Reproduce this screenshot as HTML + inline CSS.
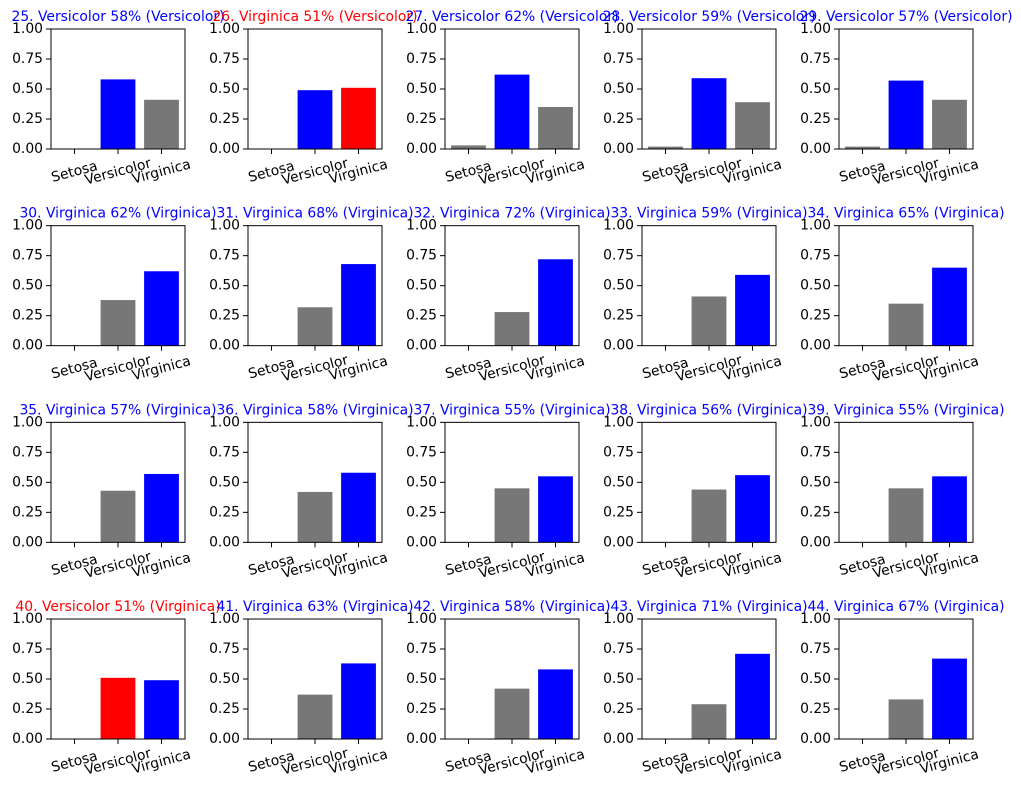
<!DOCTYPE html>
<html><head><meta charset="utf-8"><style>
body{margin:0;background:#fff;}
svg{display:block;font-family:"DejaVu Sans","Liberation Sans",sans-serif;}
</style></head><body>
<svg id="c" width="1021" height="789"></svg>
<script>
const categories=["Setosa","Versicolor","Virginica"];
const sampleIds=[25,26,27,28,29,30,31,32,33,34,35,36,37,38,39,40,41,42,43,44];
const setosaVals=[0,0,0.03,0.02,0.02,0,0,0,0,0,0,0,0,0,0,0,0,0,0,0];
const versicolorVals=[0.58,0.49,0.62,0.59,0.57,0.38,0.32,0.28,0.41,0.35,0.43,0.42,0.45,0.44,0.45,0.51,0.37,0.42,0.29,0.33];
const virginicaVals=[0.41,0.51,0.35,0.39,0.41,0.62,0.68,0.72,0.59,0.65,0.57,0.58,0.55,0.56,0.55,0.49,0.63,0.58,0.71,0.67];
const trueLabels=[1,1,1,1,1,2,2,2,2,2,2,2,2,2,2,2,2,2,2,2];
const yTicks=[0,0.25,0.5,0.75,1.0];
const yTickLabels=["0.00","0.25","0.50","0.75","1.00"];

const NS="http://www.w3.org/2000/svg";
const svg=document.getElementById('c');
function mk(tag,attrs,parent){const e=document.createElementNS(NS,tag);for(const k in attrs)e.setAttribute(k,attrs[k]);(parent||svg).appendChild(e);return e;}
const W=134,H=120,FS=13.9;
sampleIds.forEach((id,i)=>{
  const col=i%5,row=Math.floor(i/5);
  const L=51+col*197,T=29+row*196.67;
  const vals=[setosaVals[i],versicolorVals[i],virginicaVals[i]];
  let pred=0;vals.forEach((v,k)=>{if(v>vals[pred])pred=k;});
  const tr=trueLabels[i];
  const g=mk('g',{});
  
  
  const xs=x=>L+(x+0.54)/3.08*W;
  const ys=y=>T+H-y*H;
  vals.forEach((v,k)=>{
    const color=k===tr?'#0000ff':(k===pred?'#ff0000':'#777777');
    const r=mk('rect',{x:xs(k-0.4),y:ys(v),width:xs(k+0.4)-xs(k-0.4),height:ys(0)-ys(v),fill:color},g);
    
    
  });
  const fr=mk('rect',{x:L,y:T,width:W,height:H,fill:'none',stroke:'#000','stroke-width':1},g);
  
  
  yTicks.forEach((t,k)=>{
    mk('line',{x1:L-5,x2:L,y1:ys(t),y2:ys(t),stroke:'#000'},g);
    const tx=mk('text',{x:L-8,y:ys(t),'text-anchor':'end','dominant-baseline':'central','font-size':FS},g);
    tx.textContent=yTickLabels[k];
    
    
  });
  categories.forEach((c,k)=>{
    const x=xs(k);
    mk('line',{x1:x,x2:x,y1:T+H,y2:T+H+5,stroke:'#000'},g);
    const cy=T+H+23;
    const tx=mk('text',{x:x,y:cy,'text-anchor':'middle','dominant-baseline':'central','font-size':FS,transform:`rotate(-15 ${x} ${cy})`},g);
    tx.textContent=c;
    
    
  });
  const ok=pred===tr;
  const title=mk('text',{x:L+W/2,y:T-8,'text-anchor':'middle','font-size':FS,fill:ok?'#0000ff':'#ff0000'},g);
  title.textContent=`${id}. ${categories[pred]} ${Math.round(vals[pred]*100)}% (${categories[tr]})`;
  
  
});
</script>
</body></html>
